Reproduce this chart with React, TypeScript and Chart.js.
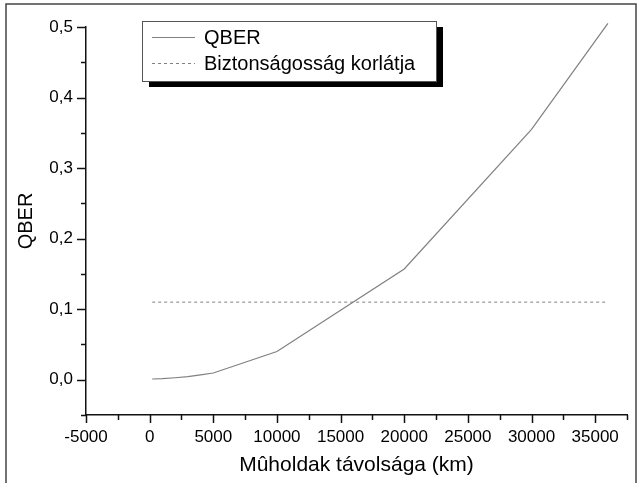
import React, { useEffect, useRef } from "react";
import { Chart, registerables } from "chart.js";

Chart.register(...registerables);

const distanceKm = [200, 1000, 2000, 3000, 4000, 5000, 10000, 20000, 30000, 36000];
const qberValues = [0.001, 0.0015, 0.0028, 0.0045, 0.007, 0.0095, 0.04, 0.157, 0.355, 0.505];
const limitDistanceKm = [200, 36000];
const limitValues = [0.11, 0.11];
const seriesLabels = ["QBER", "Biztonságosság korlátja"];
const xTitle = "Mûholdak távolsága (km)";
const yTitle = "QBER";

const FONT = "'Liberation Sans', Arial, sans-serif";

const framePlugin = {
  id: "frame",
  beforeDraw(chart: any) {
    const ctx = chart.ctx;
    ctx.save();
    ctx.fillStyle = "#ffffff";
    ctx.fillRect(0, 0, chart.width, chart.height);
    ctx.strokeStyle = "#444";
    ctx.lineWidth = 1.5;
    ctx.strokeRect(6, 4, 630, 520);
    ctx.restore();
  },
};

const ticksPlugin = {
  id: "customTicks",
  afterDraw(chart: any) {
    const ctx = chart.ctx;
    const xs = chart.scales.x;
    const ys = chart.scales.y;
    ctx.save();
    ctx.strokeStyle = "#111";
    ctx.lineWidth = 1.5;
    xs.ticks.forEach((t: any) => {
      const px = Math.round(xs.getPixelForValue(t.value)) + 0.5;
      const major = Math.abs(t.value % 5000) < 1e-6;
      const len = major ? 8 : 5;
      ctx.beginPath();
      ctx.moveTo(px, xs.top);
      ctx.lineTo(px, xs.top + len);
      ctx.stroke();
    });
    ys.ticks.forEach((t: any) => {
      const py = Math.round(ys.getPixelForValue(t.value)) + 0.5;
      const v10 = t.value * 10;
      const major = Math.abs(v10 - Math.round(v10)) < 1e-6;
      const len = major ? 9 : 5;
      ctx.beginPath();
      ctx.moveTo(ys.right, py);
      ctx.lineTo(ys.right - len, py);
      ctx.stroke();
    });
    ctx.restore();
  },
};

const legendPlugin = {
  id: "boxLegend",
  afterDraw(chart: any) {
    const ctx = chart.ctx;
    const left = 142;
    const top = 21;
    const w = 294;
    const h = 60;
    ctx.save();
    ctx.fillStyle = "#000";
    ctx.fillRect(left + 7, top + 6, w, h);
    ctx.fillStyle = "#fff";
    ctx.fillRect(left, top, w, h);
    ctx.strokeStyle = "#555";
    ctx.lineWidth = 1;
    ctx.strokeRect(left + 0.5, top + 0.5, w, h);
    chart.data.datasets.forEach((ds: any, i: number) => {
      const y = top + 16.5 + i * 26;
      ctx.strokeStyle = ds.borderColor;
      ctx.lineWidth = 1;
      ctx.setLineDash(ds.borderDash || []);
      ctx.beginPath();
      ctx.moveTo(left + 10, y);
      ctx.lineTo(left + 53, y);
      ctx.stroke();
      ctx.setLineDash([]);
      ctx.fillStyle = "#000";
      ctx.font = `20px ${FONT}`;
      ctx.textBaseline = "middle";
      ctx.textAlign = "left";
      ctx.fillText(ds.label, left + 62, y + 1);
    });
    ctx.restore();
  },
};

export default function App() {
  const canvasRef = useRef<HTMLCanvasElement | null>(null);

  useEffect(() => {
    if (!canvasRef.current) return;
    const chart = new Chart(canvasRef.current, {
      type: "line",
      data: {
        datasets: [
          {
            label: seriesLabels[0],
            data: distanceKm.map((x, i) => ({ x, y: qberValues[i] })),
            borderColor: "#808080",
            borderWidth: 1.2,
            pointRadius: 0,
            tension: 0,
            fill: false,
            clip: false,
          },
          {
            label: seriesLabels[1],
            data: limitDistanceKm.map((x, i) => ({ x, y: limitValues[i] })),
            borderColor: "#808080",
            borderWidth: 1,
            borderDash: [3, 3],
            pointRadius: 0,
            tension: 0,
            fill: false,
            clip: false,
          },
        ],
      },
      options: {
        animation: false,
        responsive: false,
        devicePixelRatio: 1,
        layout: { padding: { left: 14, top: 27, right: 15, bottom: 0 } },
        plugins: {
          legend: { display: false },
          tooltip: { enabled: false },
        },
        scales: {
          x: {
            type: "linear",
            min: -5000,
            max: 37500,
            grid: {
              drawOnChartArea: false,
              drawTicks: true,
              tickLength: 8,
              tickColor: "rgba(0,0,0,0)",
            },
            border: { display: true, color: "#111", width: 1.5 },
            ticks: {
              stepSize: 2500,
              autoSkip: false,
              maxRotation: 0,
              padding: 4,
              color: "#000",
              font: { family: FONT, size: 17 },
              callback: (v: any) => (Math.abs(Number(v) % 5000) < 1e-6 ? String(v) : ""),
            },
            title: {
              display: true,
              text: xTitle,
              color: "#000",
              font: { family: FONT, size: 21 },
              padding: { top: 0, bottom: 5 },
            },
            afterFit: (scale: any) => {
              scale.height = 68;
            },
          },
          y: {
            type: "linear",
            min: -0.05,
            max: 0.5,
            grid: {
              drawOnChartArea: false,
              drawTicks: true,
              tickLength: 9,
              tickColor: "rgba(0,0,0,0)",
            },
            border: { display: true, color: "#111", width: 1.5 },
            ticks: {
              stepSize: 0.05,
              autoSkip: false,
              padding: 4,
              color: "#000",
              font: { family: FONT, size: 17 },
              callback: (v: any) => {
                const n = Number(v);
                const v10 = n * 10;
                if (Math.abs(v10 - Math.round(v10)) > 1e-6) return "";
                return n.toFixed(1).replace(".", ",");
              },
            },
            title: {
              display: true,
              text: yTitle,
              color: "#000",
              font: { family: FONT, size: 20 },
              padding: { top: 0, bottom: 0 },
            },
            afterFit: (scale: any) => {
              scale.width = 72;
            },
          },
        },
      },
      plugins: [framePlugin, ticksPlugin, legendPlugin],
    });
    return () => chart.destroy();
  }, []);

  return (
    <div style={{ position: "fixed", left: 0, top: 0, width: 642, height: 483, background: "#fff" }}>
      <canvas ref={canvasRef} width={642} height={483} style={{ display: "block", width: 642, height: 483 }} />
    </div>
  );
}
